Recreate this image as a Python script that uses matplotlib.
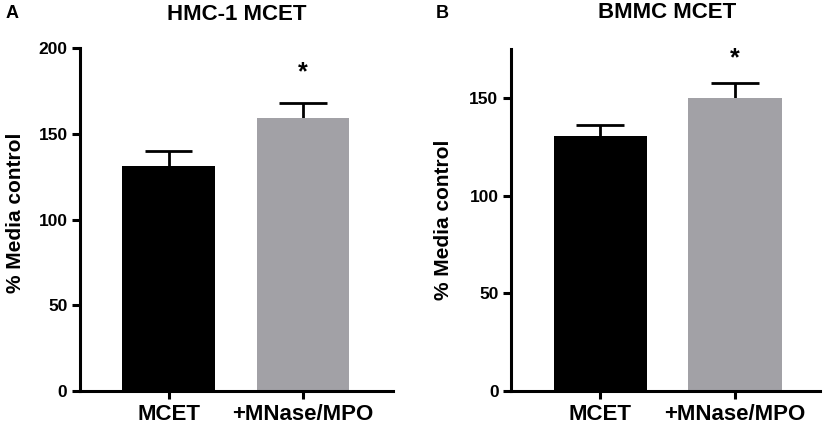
import matplotlib
matplotlib.use("Agg")
import matplotlib.pyplot as plt

plt.rcParams['font.family'] = ['Liberation Sans', 'DejaVu Sans']
plt.rcParams['font.weight'] = 'bold'

categories = ["MCET", "+MNase/MPO"]
hmc_values = [131, 159]
hmc_errors = [9, 9]
bmmc_values = [130.5, 150]
bmmc_errors = [5.5, 7.5]
colors = ["#000000", "#a2a1a6"]

fig = plt.figure(figsize=(8.27, 4.24), dpi=100)
W, H = 827, 424

def make_ax(left, right, top, bottom):
    return fig.add_axes([left / W, 1 - bottom / H, (right - left) / W, (bottom - top) / H])

axA = make_ax(80, 393, 48, 391)
axB = make_ax(511, 820, 49, 391)

def draw(ax, values, errors, ymax, yticks, xlim, star_off):
    x = list(range(len(categories)))
    ax.bar(x, values, width=0.69, color=colors, zorder=2)
    tops = [v + e for v, e in zip(values, errors)]
    ax.vlines(x, values, tops, colors='black', linewidth=2, zorder=1)
    ax.hlines(tops, [xi - 0.175 for xi in x], [xi + 0.175 for xi in x],
              colors='black', linewidth=2, zorder=1)
    ax.set_ylim(0, ymax)
    ax.set_xlim(*xlim)
    ax.set_yticks(yticks)
    ax.set_xticks(x)
    ax.set_xticklabels(categories, fontsize=16, fontweight='bold')
    for lbl in ax.get_yticklabels():
        lbl.set_fontsize(12.5)
        lbl.set_fontweight('bold')
    ax.spines['top'].set_visible(False)
    ax.spines['right'].set_visible(False)
    for s in ('left', 'bottom'):
        ax.spines[s].set_linewidth(2.2)
    ax.tick_params(axis='both', width=2.2, length=6)
    ax.tick_params(axis='y', pad=3)
    ax.tick_params(axis='x', pad=3)
    ax.set_ylabel("% Media control", fontsize=15, fontweight='bold')
    ax.annotate("*", xy=(1, tops[1]), xytext=(0, star_off), textcoords='offset points',
                ha='center', va='center', fontsize=18, fontweight='bold')

draw(axA, hmc_values, hmc_errors, 200, [0, 50, 100, 150, 200], (-0.66, 1.67), 22)
draw(axB, bmmc_values, bmmc_errors, 175, [0, 50, 100, 150], (-0.66, 1.63), 18)

axA.yaxis.set_label_coords((25 - 80) / 313, 0.52)
axB.yaxis.set_label_coords((453 - 511) / 309, 0.5)

fig.text(237 / W, 1 - 14 / H, "HMC-1 MCET", ha='center', va='center', fontsize=16, fontweight='bold')
fig.text(667 / W, 1 - 13 / H, "BMMC MCET", ha='center', va='center', fontsize=16, fontweight='bold')
fig.text(12 / W, 1 - 14 / H, "A", ha='center', va='center', fontsize=13, fontweight='bold')
fig.text(442 / W, 1 - 13 / H, "B", ha='center', va='center', fontsize=13, fontweight='bold')

fig.savefig("out.png", dpi=100)
